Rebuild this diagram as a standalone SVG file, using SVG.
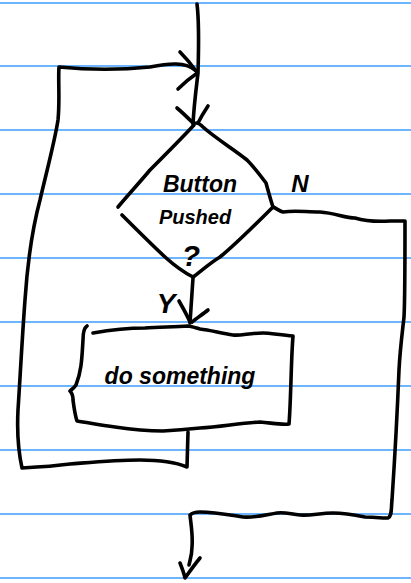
<svg xmlns="http://www.w3.org/2000/svg" width="411" height="583" viewBox="0 0 411 583">
<style>
.rule{stroke:#3e9cff;stroke-width:1.6;fill:none}
.ink{stroke:#000;stroke-width:3.6;fill:none;stroke-linecap:round;stroke-linejoin:round}
.hand{font-family:"Liberation Sans","DejaVu Sans",sans-serif;font-style:italic;font-weight:bold;fill:#000}
</style>
<rect width="411" height="583" fill="#fff"/>
<g id="paper">
<line class="rule" x1="0" y1="3" x2="411" y2="3"/>
<line class="rule" x1="0" y1="66" x2="411" y2="66"/>
<line class="rule" x1="0" y1="130" x2="411" y2="130"/>
<line class="rule" x1="0" y1="194" x2="411" y2="194"/>
<line class="rule" x1="0" y1="258" x2="411" y2="258"/>
<line class="rule" x1="0" y1="322" x2="411" y2="322"/>
<line class="rule" x1="0" y1="386" x2="411" y2="386"/>
<line class="rule" x1="0" y1="450" x2="411" y2="450"/>
<line class="rule" x1="0" y1="514" x2="411" y2="514"/>
<line class="rule" x1="0" y1="578" x2="411" y2="578"/>
</g>
<g id="connectors">
<path class="ink" d="M197,4 C199,20 199,40 198,73 C196,90 194,105 193,124"/>
<path class="ink" d="M180,52 C186,58 191,64 196,71 M178,89 C184,83 190,78 196,74"/>
<path class="ink" d="M177,108 C183,113 188,118 193,123 M208,106 C204,112 201,117 198,123"/>
<path class="ink" d="M193,278 C192,292 191,308 190,323"/>
<path class="ink" d="M179,301 C183,308 187,315 190,322 M208,310 C203,314 197,318 192,322"/>
<path class="ink" d="M188,432 L187,467 C175,462 160,460 140,460 C115,460 95,462 70,464 C55,466 40,467 22,468 C18,450 17,430 18,410 C20,380 22,340 25,300 C27,270 32,230 40,200 C47,170 55,140 58,120 C60,100 58,80 59,67 C90,70 120,70 150,67 C170,63 185,62 195,70"/>
<path class="ink" d="M273,207 C276,208 279,211 283,212 C295,210 305,212 320,212 C335,213 345,218 355,218 C365,221 375,222 390,221 L405,221 C405,250 405,300 404,317 C402,335 400,350 399,370 C397,420 394,470 392,500 C391,510 392,516 388,518 C380,518 372,517 365,517 C355,515 345,513 333,513 C320,513 310,516 300,515 C290,514 285,512 277,513 C265,515 255,518 243,517 C230,515 215,512 200,512 C195,512 192,513 190,515 C191,525 193,535 192,547 C192,555 190,560 189,565"/>
<path class="ink" d="M180,563 C182,568 184,573 185,578 C190,571 195,564 200,558"/>
</g>
<g id="decision">
<path class="ink" d="M194,125 C180,140 165,155 150,170 C140,182 128,195 118,207"/>
<path class="ink" d="M122,215 C135,228 150,243 165,257 C175,266 185,273 193,277 C200,272 210,263 220,257 C235,245 255,225 273,207 C270,198 268,190 266,183 C260,175 254,167 247,160 C235,150 215,138 203,127 C200,124 198,123 196,123"/>
<text class="hand" x="200" y="192" font-size="23" text-anchor="middle">Button</text>
<text class="hand" x="195" y="224" font-size="20" text-anchor="middle">Pushed</text>
<text class="hand" x="191" y="266" font-size="30" text-anchor="middle">?</text>
</g>
<g id="labels">
<text class="hand" x="300" y="192" font-size="24" text-anchor="middle">N</text>
<text class="hand" x="166" y="313" font-size="28" text-anchor="middle">Y</text>
</g>
<g id="action">
<path class="ink" d="M87,326 C84,328 83,332 83,340 C82,355 82,370 76,385 C74,388 71,390 70,391 C72,393 73,396 73,400 C74,408 75,415 77,421 C90,423 100,425 115,427 C135,430 150,431 163,431 C180,430 190,429 200,428 C220,427 240,423 260,422 C272,423 282,425 289,424 C291,400 291,360 293,336 C280,335 270,333 263,333 C250,333 240,336 233,335 C220,333 210,330 200,329 C193,327 190,326 188,326 C175,327 160,327 145,328 C130,328 110,330 93,333"/>
<text class="hand" x="180" y="384" font-size="23" text-anchor="middle">do something</text>
</g>
</svg>
